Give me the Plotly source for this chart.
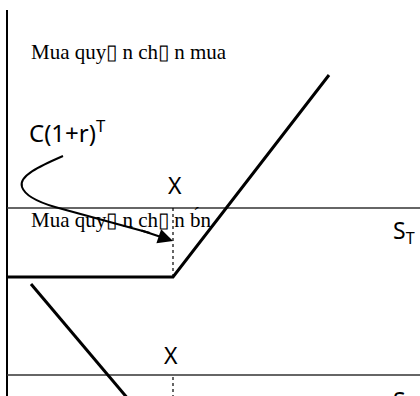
import plotly.graph_objects as go

# Drawing coordinates (x to the right, y downward)
axis_x = [7, 7]
axis_y = [10, 396]
zero_upper_x = [7, 420]
zero_upper_y = [208, 208]
zero_lower_x = [7, 420]
zero_lower_y = [375, 375]

call_x = [7, 173, 329]
call_y = [277, 277, 75]

put_x = [31, 129]
put_y = [284, 400]

strike_upper_x = [173, 173]
strike_upper_y = [208, 277]
strike_lower_x = [173, 173]
strike_lower_y = [377, 400]

curve_pts = [(63, 156), (40, 166), (18, 176), (22, 187), (25, 196), (38, 202), (55, 207), (150, 233)]
arrow_tail = (140, 230)
arrow_head = (173, 241)

BOX = "\u25af\u2009"
labels = [
    # text, x, y, font family, size, xanchor, yanchor
    (f"Mua quy{BOX}n ch{BOX}n mua", 29, 52, "Liberation Serif", 21, "left", "middle"),
    ("C(1+r)<sup>T</sup>", 27, 131, "Noto Sans", 24, "left", "middle"),
    ("X", 175, 185, "Noto Sans", 23, "center", "middle"),
    (f"Mua quy{BOX}n ch{BOX}n b\u0301n", 29, 219, "Liberation Serif", 21, "left", "middle"),
    ("S<sub>T</sub>", 391, 231, "Noto Sans", 23, "left", "middle"),
    ("X", 171, 355, "Noto Sans", 23, "center", "middle"),
    ("S", 391, 382, "Noto Sans", 23, "left", "top"),
]

fig = go.Figure()

def seg(x, y, width, color="black", dash="solid"):
    fig.add_trace(go.Scatter(x=x, y=y, mode="lines", line=dict(color=color, width=width, dash=dash),
                             hoverinfo="skip", showlegend=False, cliponaxis=True))

seg(axis_x, axis_y, 2)
seg(zero_upper_x, zero_upper_y, 1.5, "#333333")
seg(zero_lower_x, zero_lower_y, 1.5, "#333333")
seg(strike_upper_x, strike_upper_y, 1.2, "black", "dot")
seg(strike_lower_x, strike_lower_y, 1.2, "black", "dot")
seg(call_x, call_y, 3)
seg(put_x, put_y, 3)

for text, x, y, fam, size, xa, ya in labels:
    fig.add_annotation(x=x, y=y, text=text, showarrow=False, xanchor=xa, yanchor=ya,
                       font=dict(family=fam, size=size, color="black"))

p = curve_pts
path = (f"M {p[0][0]},{p[0][1]} C {p[1][0]},{p[1][1]} {p[2][0]},{p[2][1]} {p[3][0]},{p[3][1]} "
        f"C {p[4][0]},{p[4][1]} {p[5][0]},{p[5][1]} {p[6][0]},{p[6][1]} L {p[7][0]},{p[7][1]}")
fig.add_shape(type="path", path=path, xref="x", yref="y", line=dict(color="black", width=2))
fig.add_annotation(x=arrow_head[0], y=arrow_head[1], ax=arrow_tail[0], ay=arrow_tail[1],
                   xref="x", yref="y", axref="x", ayref="y", text="", showarrow=True,
                   arrowhead=2, arrowsize=1.5, arrowwidth=2, arrowcolor="black")

fig.update_layout(width=420, height=396, margin=dict(l=0, r=0, t=0, b=0),
                  paper_bgcolor="white", plot_bgcolor="white",
                  xaxis=dict(range=[0, 420], visible=False, fixedrange=True),
                  yaxis=dict(range=[396, 0], visible=False, fixedrange=True))

fig.write_html("out.html", config={"displayModeBar": False},
               post_script="document.body.style.margin='0';")
